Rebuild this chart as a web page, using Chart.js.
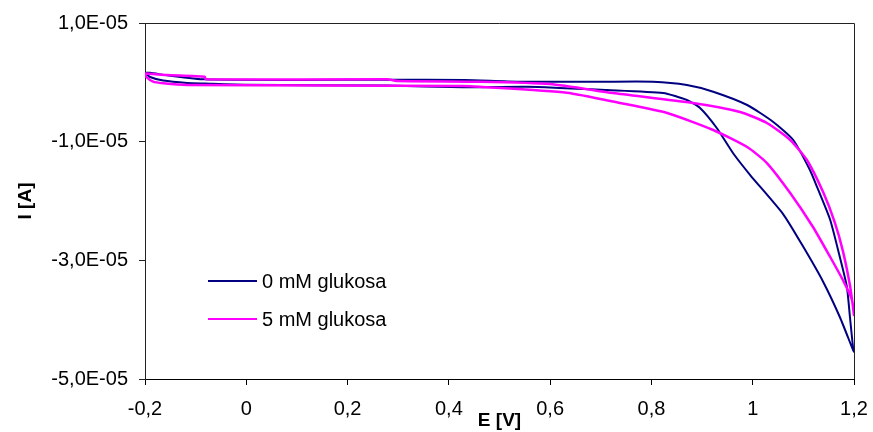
<!DOCTYPE html>
<html>
<head>
<meta charset="utf-8">
<script src="https://cdn.jsdelivr.net/npm/chart.js@4.4.1/dist/chart.umd.min.js"></script>
<style>
  html, body { margin: 0; padding: 0; background: #fff; }
  #wrap { width: 873px; height: 432px; }
</style>
</head>
<body>
<div id="wrap"><canvas id="cv"></canvas></div>
<script>
// cyclic voltammograms, current in µA (axis labelled in A)
const SERIES_LABELS = ['0 mM glukosa', '5 mM glukosa'];

const E_0MM = [-0.2, -0.19, -0.157, -0.082, 0.1, 0.278, 0.43, 0.535, 0.7, 0.803, 0.87, 0.922, 0.989, 1.04, 1.08, 1.113, 1.127, 1.153, 1.172, 1.186, 1.192, 1.198, 1.2,
  1.198, 1.172, 1.139, 1.099, 1.06, 0.995, 0.961, 0.929, 0.896, 0.87, 0.823, 0.712, 0.554, 0.428, 0.278, 0.0, -0.082, -0.117, -0.164, -0.19, -0.2];
const I_0MM = [1.6, 1.6, 1.2, 0.5, 0.4, 0.45, 0.4, 0.11, 0.1, 0.1, -0.45, -1.58, -3.82, -6.63, -9.72, -14.78, -17.64, -23.2, -29.44, -34.49, -39.55, -44.61, -45.4,
  -45.1, -39.55, -33.6, -27.6, -22.2, -15.62, -11.91, -7.7, -4.33, -2.98, -1.8, -1.29, -0.74, -0.84, -0.55, -0.4, -0.2, -0.1, 0.3, 0.9, 1.6];

const E_5MM = [-0.2, -0.198, -0.157, -0.082, -0.08, 0.278, 0.3, 0.461, 0.6, 0.724, 0.882, 0.975, 1.028, 1.074, 1.107, 1.139, 1.162, 1.178, 1.192, 1.198, 1.2,
  1.196, 1.178, 1.153, 1.119, 1.074, 1.028, 0.989, 0.922, 0.831, 0.738, 0.633, 0.461, 0.428, -0.117, -0.164, -0.184, -0.198, -0.2];
const I_5MM = [1.5, 1.5, 1.24, 0.95, 0.51, 0.51, 0.22, 0.11, -0.28, -1.8, -3.48, -5.0, -6.85, -9.72, -13.09, -18.5, -23.6, -28.4, -34.2, -37.86, -39.21,
  -36.68, -33.32, -29.44, -24.38, -18.65, -13.6, -10.9, -8.03, -5.17, -3.48, -1.75, -0.74, -0.62, -0.45, -0.16, 0.11, 0.95, 1.5];

const X_TICKS = [-0.2, 0, 0.2, 0.4, 0.6, 0.8, 1, 1.2];
const X_TICK_LABELS = ['-0,2', '0', '0,2', '0,4', '0,6', '0,8', '1', '1,2'];
const Y_TICKS = [10, -10, -30, -50];
const Y_TICK_LABELS = ['1,0E-05', '-1,0E-05', '-3,0E-05', '-5,0E-05'];

const FONT = 'Liberation Sans, Arial, sans-serif';

function pairs(xs, ys) {
  return xs.map((x, i) => ({ x: x, y: ys[i] }));
}

// box around the plot (top and right edges)
const frame = {
  id: 'frame',
  afterDraw(chart) {
    const { ctx, chartArea: a } = chart;
    ctx.save();
    ctx.strokeStyle = '#222';
    ctx.lineWidth = 1;
    ctx.beginPath();
    ctx.moveTo(a.left, a.top + 0.5);
    ctx.lineTo(a.right + 0.5, a.top + 0.5);
    ctx.lineTo(a.right + 0.5, a.bottom);
    ctx.stroke();
    ctx.restore();
  }
};

// legend sitting inside the plot, lower left
const insideLegend = {
  id: 'insideLegend',
  afterDraw(chart) {
    const { ctx, chartArea: a } = chart;
    ctx.save();
    ctx.font = '20px ' + FONT;
    ctx.textBaseline = 'middle';
    ctx.fillStyle = '#000';
    chart.data.datasets.forEach((ds, i) => {
      const y = a.top + 258 + i * 38;
      ctx.strokeStyle = ds.borderColor;
      ctx.lineWidth = 2;
      ctx.beginPath();
      ctx.moveTo(a.left + 63, y);
      ctx.lineTo(a.left + 112, y);
      ctx.stroke();
      ctx.fillText(ds.label, a.left + 117, y + 1);
    });
    ctx.restore();
  }
};

new Chart(document.getElementById('cv'), {
  type: 'line',
  data: {
    datasets: [
      {
        label: SERIES_LABELS[0],
        data: pairs(E_0MM, I_0MM),
        borderColor: '#000080',
        borderWidth: 2,
        pointRadius: 0,
        tension: 0.2,
        fill: false,
        order: 2
      },
      {
        label: SERIES_LABELS[1],
        data: pairs(E_5MM, I_5MM),
        borderColor: '#ff00ff',
        borderWidth: 2.5,
        pointRadius: 0,
        tension: 0.2,
        fill: false,
        order: 1
      }
    ]
  },
  options: {
    responsive: true,
    maintainAspectRatio: false,
    animation: false,
    layout: { padding: { left: 0, right: 19, top: 23, bottom: 0 } },
    plugins: {
      legend: { display: false },
      tooltip: { enabled: false }
    },
    scales: {
      x: {
        type: 'linear',
        min: -0.2,
        max: 1.2,
        afterFit: (s) => { s.height = 53; s.paddingLeft = 0; s.paddingRight = 0; },
        afterBuildTicks: (s) => { s.ticks = X_TICKS.map(v => ({ value: v })); },
        grid: { drawOnChartArea: false, drawTicks: true, tickLength: 6, color: '#000' },
        border: { display: true, color: '#000', width: 1 },
        ticks: {
          color: '#000',
          padding: 12,
          maxRotation: 0,
          font: { family: FONT, size: 20 },
          callback: (v, i) => X_TICK_LABELS[i]
        },
        title: {
          display: true,
          text: 'E [V]',
          color: '#000',
          padding: { top: 0, bottom: 0 },
          font: { family: FONT, size: 19, weight: 'bold' }
        }
      },
      y: {
        type: 'linear',
        min: -50,
        max: 10,
        afterFit: (s) => { s.width = 145; s.paddingTop = 0; s.paddingBottom = 0; },
        afterBuildTicks: (s) => { s.ticks = Y_TICKS.map(v => ({ value: v })); },
        grid: { drawOnChartArea: false, drawTicks: true, tickLength: 6, color: '#222' },
        border: { display: true, color: '#222', width: 1 },
        ticks: {
          color: '#000',
          padding: 11,
          font: { family: FONT, size: 20 },
          callback: (v, i) => Y_TICK_LABELS[i]
        },
        title: {
          display: true,
          text: 'I [A]',
          color: '#000',
          padding: { top: 14, bottom: 0 },
          font: { family: FONT, size: 19, weight: 'bold' }
        }
      }
    }
  },
  plugins: [frame, insideLegend]
});
</script>
</body>
</html>
